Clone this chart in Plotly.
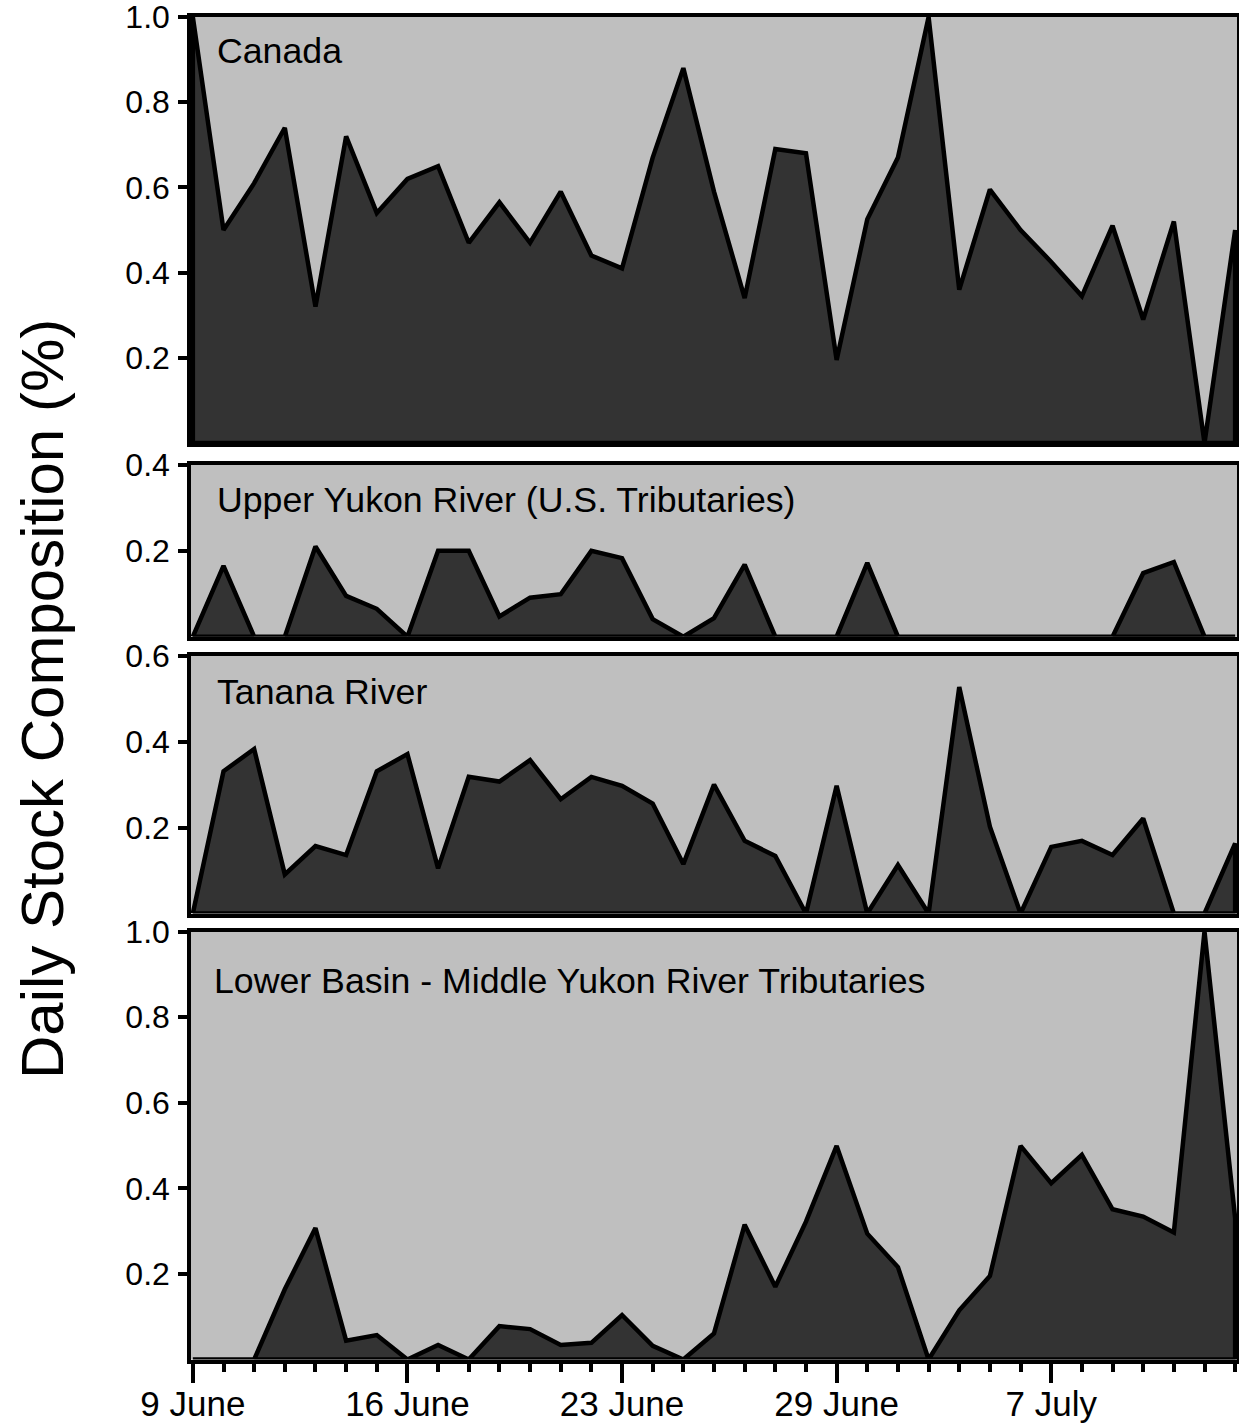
import plotly.graph_objects as go

# ---- data ----
days = list(range(35))
tick_idx = [0, 7, 14, 21, 28]
tick_labels = ["9 June", "16 June", "23 June", "29 June", "7 July"]

canada = [1.0, 0.50, 0.61, 0.74, 0.32, 0.72, 0.54, 0.62, 0.65, 0.47,
          0.565, 0.47, 0.59, 0.44, 0.41, 0.67, 0.88, 0.59, 0.34, 0.69,
          0.68, 0.195, 0.525, 0.67, 1.0, 0.36, 0.595, 0.50, 0.425, 0.345,
          0.51, 0.29, 0.52, 0.0, 0.50]
upper = [0, 0.165, 0, 0, 0.21, 0.095, 0.065, 0, 0.2, 0.2,
         0.047, 0.091, 0.099, 0.2, 0.183, 0.041, 0, 0.043, 0.168, 0,
         0, 0, 0.172, 0, 0, 0, 0, 0, 0, 0,
         0, 0.148, 0.174, 0, 0]
tanana = [0, 0.331, 0.383, 0.091, 0.157, 0.136, 0.331, 0.371, 0.105, 0.318,
          0.307, 0.357, 0.266, 0.318, 0.297, 0.256, 0.115, 0.30, 0.169, 0.134,
          0, 0.297, 0, 0.113, 0, 0.527, 0.202, 0, 0.155, 0.169,
          0.136, 0.221, 0, 0, 0.163]
lower = [0, 0, 0, 0.164, 0.307, 0.044, 0.057, 0, 0.034, 0,
         0.078, 0.071, 0.034, 0.039, 0.104, 0.032, 0, 0.061, 0.315, 0.17,
         0.322, 0.499, 0.294, 0.216, 0, 0.115, 0.195, 0.499, 0.412, 0.478,
         0.351, 0.334, 0.297, 1.0, 0.33]

panel_names = ["Canada", "Upper Yukon River (U.S. Tributaries)", "Tanana River",
               "Lower Basin - Middle Yukon River Tributaries"]
series = [canada, upper, tanana, lower]
y_max = [1.0, 0.4, 0.6, 1.0]
y_ticks = [[0.2, 0.4, 0.6, 0.8, 1.0], [0.2, 0.4], [0.2, 0.4, 0.6], [0.2, 0.4, 0.6, 0.8, 1.0]]

# ---- styling / layout ----
W, H = 1239, 1425
top_m, bot_m, left_m, right_m = 17, 65, 191, 2
plot_h = H - top_m - bot_m
plot_w = W - left_m - right_m
# panel pixel extents (top, bottom) in page coords
panel_px = [(17, 443), (465, 636.7), (655.7, 913.5), (931.5, 1359.5)]
label_y = [51, 500, 692, 981]
label_x = [215, 215, 215, 212]

FONT = "Liberation Sans, Arial, Helvetica, sans-serif"
fig = go.Figure()
layout = dict(
    width=W, height=H,
    margin=dict(l=left_m, r=right_m, t=top_m, b=bot_m, autoexpand=False),
    paper_bgcolor="white", plot_bgcolor="white",
    showlegend=False,
    font=dict(family=FONT, color="black"),
)

annotations = []
for k in range(4):
    n = k + 1
    xa = "x" if n == 1 else f"x{n}"
    ya = "y" if n == 1 else f"y{n}"
    vals = series[k]
    # closed outline polygon: data line, then down to the baseline and back
    px = days + [days[-1], days[0], days[0]]
    py = vals + [0, 0, vals[0]]
    fig.add_trace(go.Scatter(
        x=px, y=py, xaxis=xa, yaxis=ya, mode="lines",
        line=dict(color="black", width=4.5), fill="toself", fillcolor="#333333",
        hoverinfo="skip"))
    t, b = panel_px[k]
    d0 = (H - bot_m - b) / plot_h
    d1 = (H - bot_m - t) / plot_h
    last = (k == 3)
    xdict = dict(
        domain=[0, 1], range=[-0.06, 34.06], anchor=ya, automargin=False,
        showline=True, mirror=True, linecolor="black", linewidth=3.5,
        showgrid=False, zeroline=False,
    )
    if last:
        xdict.update(
            tickmode="array", tickvals=tick_idx, ticktext=tick_labels,
            ticks="outside", ticklen=20, tickwidth=3.5, tickcolor="black",
            tickfont=dict(size=35, family=FONT, color="black"),
            ticklabelstandoff=-9, ticklabeloverflow="allow",
            minor=dict(tickmode="array", tickvals=days, ticks="outside",
                       ticklen=9, tickwidth=3.5, tickcolor="black", showgrid=False),
        )
    else:
        xdict.update(showticklabels=False, ticks="", matches="x4")
    ydict = dict(
        domain=[d0, d1], range=[0, y_max[k]], anchor=xa, automargin=False,
        showline=True, mirror=True, linecolor="black", linewidth=3.5,
        showgrid=False, zeroline=False,
        tickmode="array", tickvals=y_ticks[k],
        ticktext=[f"{v:.1f}" for v in y_ticks[k]],
        ticks="outside", ticklen=9, tickwidth=3.5, tickcolor="black",
        tickfont=dict(size=32, family=FONT, color="black"),
        ticklabelstandoff=2, ticklabeloverflow="allow",
    )
    layout["xaxis" if n == 1 else f"xaxis{n}"] = xdict
    layout["yaxis" if n == 1 else f"yaxis{n}"] = ydict
    annotations.append(dict(
        text=panel_names[k], xref="paper", yref="paper",
        x=(label_x[k] - left_m) / plot_w,
        y=(H - bot_m - label_y[k]) / plot_h,
        xanchor="left", yanchor="middle", showarrow=False,
        font=dict(size=35.7, family=FONT, color="black")))

annotations.append(dict(
    text="Daily Stock Composition (%)", xref="paper", yref="paper",
    x=(42 - left_m) / plot_w, y=(H - bot_m - 699) / plot_h,
    xanchor="center", yanchor="middle", textangle=-90, showarrow=False,
    font=dict(size=60, family=FONT, color="black")))

layout["annotations"] = annotations
fig.update_layout(**layout)

# light-gray panel backgrounds behind the traces
for k in range(4):
    n = k + 1
    fig.add_shape(type="rect", xref=("x" if n == 1 else f"x{n}") + " domain",
                  yref=("y" if n == 1 else f"y{n}") + " domain",
                  x0=0, x1=1, y0=0, y1=1, fillcolor="#bfbfbf",
                  line=dict(width=0), layer="below")

fig.write_html(
    "out.html",
    config={"displayModeBar": False},
    post_script="document.body.style.margin='0';document.body.style.overflow='hidden';",
)
